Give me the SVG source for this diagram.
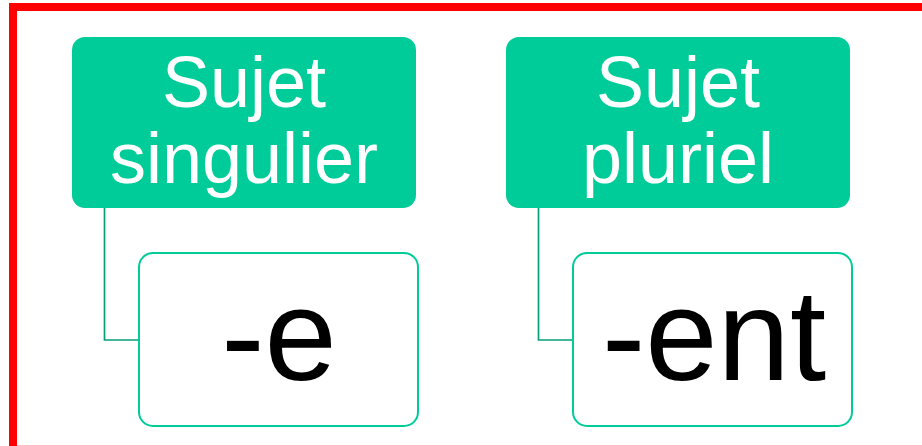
<svg xmlns="http://www.w3.org/2000/svg" width="922" height="446" viewBox="0 0 922 446">
  <style>
    .head { fill: #00CC99; }
    .child { fill: #FFFFFF; stroke: #00CC99; stroke-width: 2; }
    .htext { fill: #FFFFFF; font-family: "Liberation Sans", Arial, sans-serif; font-size: 72px; text-anchor: middle; }
    .ctext { fill: #000000; font-family: "Liberation Sans", Arial, sans-serif; font-size: 130px; text-anchor: middle; }
    .conn { fill: none; stroke: #079F7A; stroke-width: 1.7; }
  </style>
  <rect x="0" y="0" width="922" height="446" fill="#FFFFFF"/>
  <g id="frame">
    <line x1="9" y1="7" x2="922" y2="7" stroke="#FF0000" stroke-width="8"/>
    <line x1="13" y1="3" x2="13" y2="446" stroke="#FF0000" stroke-width="8"/>
    <line x1="17" y1="445.5" x2="922" y2="445.5" stroke="#FF0000" stroke-opacity="0.25" stroke-width="1"/>
  </g>
  <g id="connectors">
    <path class="conn" d="M104.5,208 V340 H139"/>
    <path class="conn" d="M538.5,208 V340 H573"/>
  </g>
  <g id="node-sujet-singulier">
    <rect class="head" x="72" y="37" width="344" height="171" rx="13" ry="13"/>
    <text class="htext" x="244" y="107">Sujet</text>
    <text class="htext" x="244" y="183">singulier</text>
  </g>
  <g id="node-e">
    <rect class="child" x="139" y="253" width="279" height="173" rx="14" ry="14"/>
    <text class="ctext" x="279" y="380">-e</text>
  </g>
  <g id="node-sujet-pluriel">
    <rect class="head" x="506" y="37" width="344" height="171" rx="13" ry="13"/>
    <text class="htext" x="678" y="107">Sujet</text>
    <text class="htext" x="678" y="183">pluriel</text>
  </g>
  <g id="node-ent">
    <rect class="child" x="573" y="253" width="279" height="173" rx="14" ry="14"/>
    <text class="ctext" x="714" y="380">-ent</text>
  </g>
</svg>
